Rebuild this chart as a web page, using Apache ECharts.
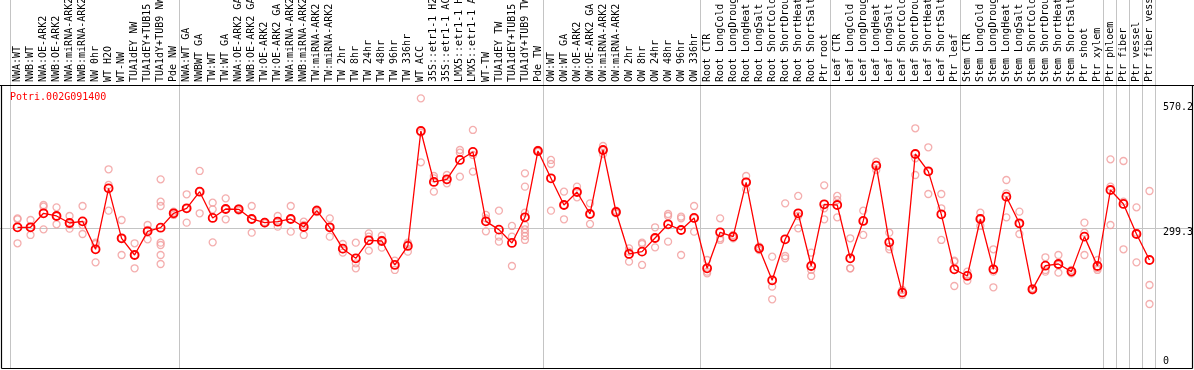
<!DOCTYPE html>
<html>
<head>
<meta charset="utf-8">
<script src="https://cdn.jsdelivr.net/npm/echarts@6/dist/echarts.min.js"></script>
<style>
html,body{margin:0;padding:0;background:#fff;}
#c{width:1194px;height:370px;}
</style>
</head>
<body>
<div id="c"></div>
<script>
const chartTitle = 'Potri.002G091400';

const categories = [
  'NWA:WT','NWB:WT','NWA:OE-ARK2','NWB:OE-ARK2','NWA:miRNA-ARK2','NWB:miRNA-ARK2','NW 0hr','WT H2O','WT-NW','TUA1dEY NW','TUA1dEY+TUB15 NW','TUA1dY+TUB9 NW','Pde NW',
  'NWA:WT GA','NWBWT GA','TW:WT','TW:WT GA','NWA:OE-ARK2 GA','NWB:OE-ARK2 GA','TW:OE-ARK2','TW:OE-ARK2 GA','NWA:miRNA-ARK2 GA','NWB:miRNA-ARK2 GA','TW:miRNA-ARK2','TW:miRNA-ARK2 GA',
  'TW 2hr','TW 8hr','TW 24hr','TW 48hr','TW 96hr','TW 336hr','WT ACC','35S::etr1-1 H2O','35S::etr1-1 ACC','LMX5::etr1-1 H2O','LMX5::etr1-1 ACC','WT-TW','TUA1dEY TW','TUA1dEY+TUB15 TW','TUA1dY+TUB9 TW','Pde TW',
  'OW:WT','OW:WT GA','OW:OE-ARK2','OW:OE-ARK2 GA','OW:miRNA-ARK2','OW:miRNA-ARK2 GA','OW 2hr','OW 8hr','OW 24hr','OW 48hr','OW 96hr','OW 336hr',
  'Root CTR','Root LongCold','Root LongDrought','Root LongHeat','Root LongSalt','Root ShortCold','Root ShortDrought','Root ShortHeat','Root ShortSalt','Ptr root',
  'Leaf CTR','Leaf LongCold','Leaf LongDrought','Leaf LongHeat','Leaf LongSalt','Leaf ShortCold','Leaf ShortDrought','Leaf ShortHeat','Leaf ShortSalt','Ptr leaf',
  'Stem CTR','Stem LongCold','Stem LongDrought','Stem LongHeat','Stem LongSalt','Stem ShortCold','Stem ShortDrought','Stem ShortHeat','Stem ShortSalt','Ptr shoot',
  'Ptr xylem','Ptr phloem','Ptr fiber','Ptr vessel','Ptr fiber vessel'
];

const meanValues = [
  300.1,300.1,330.4,324.6,309.4,313.0,252.5,384.5,276.3,240.2,291.4,299.3,330.4,
  341.2,377.2,320.3,339.7,339.0,318.1,310.2,312.3,318.1,300.8,336.1,300.1,
  253.9,233.0,271.9,270.5,218.6,259.7,508.5,398.2,403.9,445.8,463.1,313.0,295.0,266.2,321.7,465.2,
  406.1,348.4,376.5,328.9,467.4,333.2,242.4,247.4,277.0,306.6,294.3,320.3,
  211.4,289.3,279.9,397.4,254.6,185.4,274.1,330.4,216.4,349.8,
  348.4,233.0,313.8,433.5,267.6,158.7,458.7,421.2,328.2,209.2,
  194.8,318.1,209.2,366.4,308.7,165.9,217.1,220.7,204.2,279.9,
  216.4,380.8,350.6,285.6,229.4
];

const replicateValues = [
  [319.5,317.4,265.5],[315.9,300.1,283.5],[348.4,344.8,295.7],[343.3,324.6,306.6],[324.6,306.6,297.2],
  [346.2,305.1,285.6],[266.9,264.0,224.3],[425.6,391.7,336.1],[315.9,276.3,240.2],[265.5,240.2,211.4],
  [305.1,294.3,274.1],[403.9,355.6,346.2,266.9,261.8,240.2,220.7],[334.0,330.4,326.8],
  [371.5,341.2,310.2],[422.0,377.2,330.4],[353.4,339.0,267.6],[362.8,339.7,317.4],[341.2,339.7,336.1],
  [346.2,318.1,288.5],[311.6,310.2,308.7],[324.6,312.3,301.5],[346.2,318.1,290.7],[312.3,305.1,283.5],
  [339.0,336.1,333.2],[319.5,300.1,279.9],[264.0,252.5,245.3],[266.9,222.2,211.4],[287.1,279.9,249.6],
  [282.0,272.7,256.1],[228.0,218.6,207.8],[266.9,264.0,247.4],[579.2,504.9,440.7],[411.1,406.1,377.2],
  [413.3,402.5,395.3],[467.4,461.6,409.7],[510.7,456.6,420.5],[326.8,319.5,291.4],[336.1,279.9,269.1],
  [303.0,279.9,216.4],[416.9,388.1,331.8,305.1,295.7,288.5,281.3,272.7],[467.4,465.2,463.1],
  [445.8,437.1,336.1],[377.2,348.4,317.4],[388.1,376.5,365.0],[352.0,328.9,307.3],[476.0,467.4,458.7],
  [336.1,333.2,330.4],[254.6,247.4,225.8],[266.9,264.0,218.6],[300.1,276.3,256.8],[328.9,324.6,269.1],
  [323.1,319.5,240.2],[346.2,319.5,290.7],
  [229.4,204.2,200.5],[319.5,276.3,272.7],[283.5,279.9,276.3],[411.1,398.9,382.3],[258.2,254.6,251.0],
  [236.6,171.7,144.3],[352.0,238.0,233.0],[367.9,324.6,297.9],[245.3,207.8,194.8],[390.9,341.2,317.4],
  [367.9,359.2,321.7],[276.3,211.4,211.4],[336.1,313.8,283.5],[442.1,434.9,424.1],[288.5,258.2,252.5],
  [164.5,158.7,153.7],[514.3,449.4,413.3],[473.2,420.5,372.2],[372.2,341.2,272.7],[228.0,225.8,173.1],
  [204.2,196.9,184.7],[331.8,319.5,303.0],[252.5,204.2,170.3],[402.5,373.6,321.7],[334.0,307.3,285.6],
  [168.1,165.9,163.8],[235.2,207.8,204.2],[240.2,218.6,202.0],[207.8,204.2,200.5],[310.2,288.5,240.2],
  [229.4,211.4,207.8],[447.2,388.1,305.1],[443.6,355.6,252.5],[343.3,288.5,224.3],[378.7,175.3,134.2]
];

const yTickValues = [0, 299.3, 570.2];
const referenceLineValue = 299.3;
const groupBoundaries = [0, 13, 41, 53, 63, 73, 84, 85, 86, 87, 88];

const repPoints = [];
replicateValues.forEach((arr, i) => arr.forEach(v => repPoints.push([i, v])));

const FONT = 'DejaVu Sans Mono';
const chart = echarts.init(document.getElementById('c'), null, {renderer: 'canvas'});

chart.setOption({
  animation: false,
  backgroundColor: '#ffffff',
  title: {
    text: chartTitle, left: 10, top: 92, padding: 0,
    textStyle: {color: '#ff0000', fontSize: 10, fontWeight: 'normal', fontFamily: FONT}
  },
  grid: {left: 11, right: 38, top: 85, bottom: 4, outerBoundsMode: 'none'},
  xAxis: {
    type: 'category', data: categories, position: 'top', boundaryGap: true,
    axisLine: {show: false}, axisTick: {show: false}, splitLine: {show: false},
    axisLabel: {interval: 0, rotate: 90, fontSize: 10, fontFamily: FONT, color: '#000', margin: 3}
  },
  yAxis: {
    type: 'value', position: 'right', min: 0, max: 608,
    axisLine: {show: false}, axisTick: {show: false}, splitLine: {show: false},
    axisLabel: {customValues: yTickValues, fontSize: 10, fontFamily: FONT, color: '#000',
      margin: 7, verticalAlign: 'top', verticalAlignMinLabel: 'bottom', align: 'left',
      formatter: v => String(v)}
  },
  series: [
    {
      type: 'scatter', data: repPoints, symbol: 'circle', symbolSize: 7, z: 3,
      itemStyle: {color: 'rgba(255,255,255,0)', borderColor: '#f19a9a', borderWidth: 1.3},
      emphasis: {disabled: true}
    },
    {
      type: 'line', data: meanValues, symbol: 'circle', symbolSize: 8, showAllSymbol: true, z: 4,
      lineStyle: {color: '#ff0000', width: 1.3},
      itemStyle: {color: 'rgba(255,255,255,0)', borderColor: '#ff0000', borderWidth: 1.8},
      emphasis: {disabled: true}
    }
  ]
});

// decorations: separators, reference line, frame
const c0 = chart.convertToPixel({xAxisIndex: 0}, 0);
const c1 = chart.convertToPixel({xAxisIndex: 0}, 1);
const cw = c1 - c0;
const yRef = Math.round(chart.convertToPixel({yAxisIndex: 0}, referenceLineValue)) + 0.5;
const W = 1194;
const gfx = [];
groupBoundaries.forEach(k => {
  const x = Math.round(c0 - cw / 2 + k * cw) - 0.5;
  gfx.push({type: 'line', z: -1, silent: true, shape: {x1: x, y1: 0, x2: x, y2: 368}, style: {stroke: '#c4c4c4', lineWidth: 1}});
});
gfx.push({type: 'line', z: -1, silent: true, shape: {x1: 0, y1: yRef, x2: 1192, y2: yRef}, style: {stroke: '#c4c4c4', lineWidth: 1}});
const frame = {stroke: '#000', lineWidth: 1.2};
gfx.push({type: 'line', z: 10, silent: true, shape: {x1: 0, y1: 85.5, x2: W, y2: 85.5}, style: frame});
gfx.push({type: 'line', z: 10, silent: true, shape: {x1: 1.5, y1: 85.5, x2: 1.5, y2: 368.5}, style: frame});
gfx.push({type: 'line', z: 10, silent: true, shape: {x1: 1192.5, y1: 85.5, x2: 1192.5, y2: 368.5}, style: frame});
gfx.push({type: 'line', z: 10, silent: true, shape: {x1: 1.5, y1: 368.5, x2: 1192.5, y2: 368.5}, style: frame});
chart.setOption({graphic: gfx});
</script>
</body>
</html>
